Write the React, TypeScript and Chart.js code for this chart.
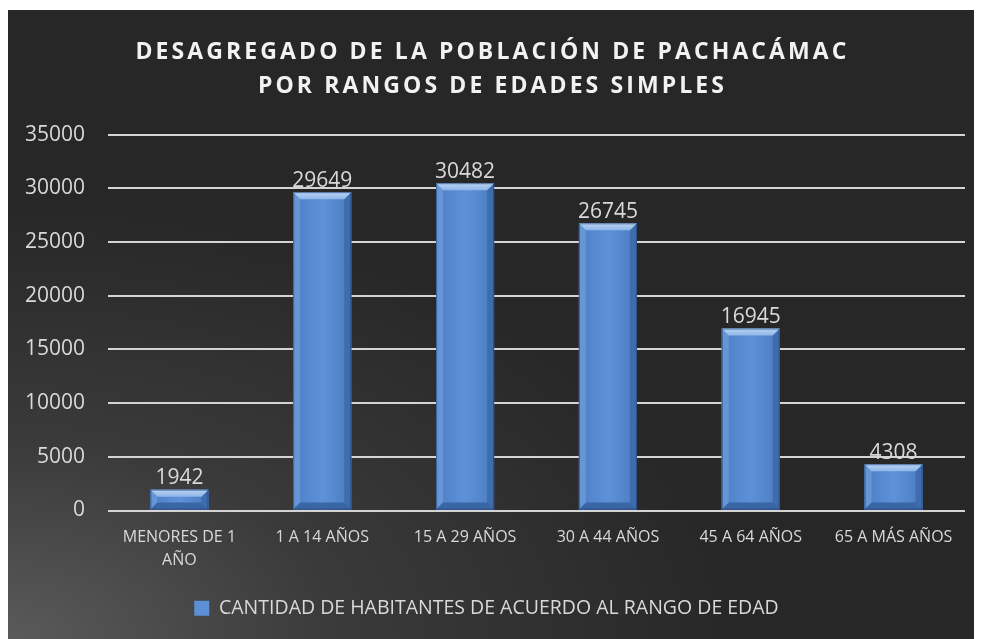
import React, { useEffect, useRef } from "react";
import { Chart, registerables } from "chart.js";

Chart.register(...registerables);

const titleLines = ["DESAGREGADO DE LA POBLACIÓN DE PACHACÁMAC", "POR RANGOS DE EDADES SIMPLES"];
const categories: (string | string[])[] = [
  ["MENORES DE 1", "AÑO"],
  "1 A 14 AÑOS",
  "15 A 29 AÑOS",
  "30 A 44 AÑOS",
  "45 A 64 AÑOS",
  "65 A MÁS AÑOS",
];
const seriesName = "CANTIDAD DE HABITANTES DE ACUERDO AL RANGO DE EDAD";
const values = [1942, 29649, 30482, 26745, 16945, 4308];
const yMax = 35000;
const yStep = 5000;

const FONT = "'Open Sans', 'Noto Sans', sans-serif";
const TEXT = "#d9d9d9";

const titleSpacing = {
  id: "titleSpacing",
  beforeDraw(chart: any) {
    const tb = chart.titleBlock;
    if (tb && !tb._patched) {
      const orig = tb.draw.bind(tb);
      tb.draw = function () {
        const ctx = chart.ctx;
        ctx.save();
        ctx.letterSpacing = "3.1px";
        ctx.translate(6, 0);
        orig();
        ctx.restore();
      };
      tb._patched = true;
    }
  },
};

const bevelBars = {
  id: "bevelBars",
  afterDatasetsDraw(chart: any) {
    const ctx: CanvasRenderingContext2D = chart.ctx;
    const meta = chart.getDatasetMeta(0);
    meta.data.forEach((el: any, i: number) => {
      const { x, y, base, width } = el.getProps(["x", "y", "base", "width"], true);
      const L = x - width / 2;
      const R = x + width / 2;
      const T = Math.min(y, base);
      const B = Math.max(y, base);
      const b = Math.min(7, (B - T) / 2);
      ctx.save();
      const g = ctx.createLinearGradient(L, 0, R, 0);
      g.addColorStop(0, "#4c7ec4");
      g.addColorStop(0.5, "#5e92d8");
      g.addColorStop(1, "#4a7bc0");
      ctx.fillStyle = g;
      ctx.fillRect(L, T, R - L, B - T);
      ctx.fillStyle = "#6796d6";
      ctx.beginPath();
      ctx.moveTo(L, T); ctx.lineTo(L + b, T + b); ctx.lineTo(L + b, B - b); ctx.lineTo(L, B); ctx.closePath();
      ctx.fill();
      ctx.fillStyle = "#3f6cad";
      ctx.beginPath();
      ctx.moveTo(R, T); ctx.lineTo(R - b, T + b); ctx.lineTo(R - b, B - b); ctx.lineTo(R, B); ctx.closePath();
      ctx.fill();
      ctx.fillStyle = "#3b66a6";
      ctx.beginPath();
      ctx.moveTo(L, B); ctx.lineTo(L + b, B - b); ctx.lineTo(R - b, B - b); ctx.lineTo(R, B); ctx.closePath();
      ctx.fill();
      const tg = ctx.createLinearGradient(0, T, 0, T + b);
      tg.addColorStop(0, "#b8d4f4");
      tg.addColorStop(1, "#8fb5e8");
      ctx.fillStyle = tg;
      ctx.beginPath();
      ctx.moveTo(L, T); ctx.lineTo(R, T); ctx.lineTo(R - b, T + b); ctx.lineTo(L + b, T + b); ctx.closePath();
      ctx.fill();
      ctx.strokeStyle = "rgba(30,60,110,0.6)";
      ctx.lineWidth = 1;
      ctx.strokeRect(L + 0.5, T + 0.5, R - L - 1, B - T - 1);
      ctx.fillStyle = TEXT;
      ctx.font = `21px ${FONT}`;
      ctx.textAlign = "center";
      ctx.textBaseline = "bottom";
      ctx.fillText(String(values[i]), x, T - 1);
      ctx.restore();
    });
  },
};

export default function App() {
  const ref = useRef<HTMLCanvasElement>(null);
  useEffect(() => {
    if (!ref.current) return;
    const chart = new Chart(ref.current, {
      type: "bar",
      data: {
        labels: categories,
        datasets: [
          {
            label: seriesName,
            data: values,
            backgroundColor: "#5b8fd6",
            borderColor: "#3f6cad",
            borderWidth: 0,
            barPercentage: 0.406,
            categoryPercentage: 1,
          },
        ],
      },
      options: {
        animation: false,
        responsive: true,
        maintainAspectRatio: false,
        layout: { padding: { left: 0, right: 17, top: 0, bottom: 11 } },
        plugins: {
          title: {
            display: true,
            text: titleLines,
            color: "#f2f2f2",
            font: { family: FONT, size: 23, weight: "bold", lineHeight: 1.45 },
            padding: { top: 26, bottom: 32 },
          },
          legend: {
            position: "bottom",
            labels: {
              color: TEXT,
              font: { family: FONT, size: 19.5 },
              boxWidth: 15,
              boxHeight: 15,
              padding: 10,
            },
          },
          tooltip: { enabled: false },
        },
        scales: {
          x: {
            grid: { display: false, drawTicks: false },
            border: { display: false },
            ticks: {
              color: TEXT,
              font: { family: FONT, size: 16, lineHeight: 1.44 },
              padding: 15,
              maxRotation: 0,
              autoSkip: false,
            },
            afterFit(scale: any) {
              scale.height = 78;
            },
          },
          y: {
            min: 0,
            max: yMax,
            ticks: {
              stepSize: yStep,
              color: TEXT,
              font: { family: FONT, size: 21 },
              padding: 23,
              callback: (v: any) => String(v),
            },
            grid: { color: "#d4d4d4", lineWidth: 2, drawTicks: false },
            border: { display: false },
            afterFit(scale: any) {
              scale.width = 100;
            },
          },
        },
      },
      plugins: [titleSpacing, bevelBars],
    });
    return () => chart.destroy();
  }, []);
  return (
    <div
      style={{
        position: "relative",
        width: 974,
        height: 629,
        marginTop: 2,
        background:
          "radial-gradient(ellipse 75% 70% at 0% 100%, #5a5a5a 0%, #3a3a3a 45%, #272727 100%)",
      }}
    >
      <canvas ref={ref} />
    </div>
  );
}
